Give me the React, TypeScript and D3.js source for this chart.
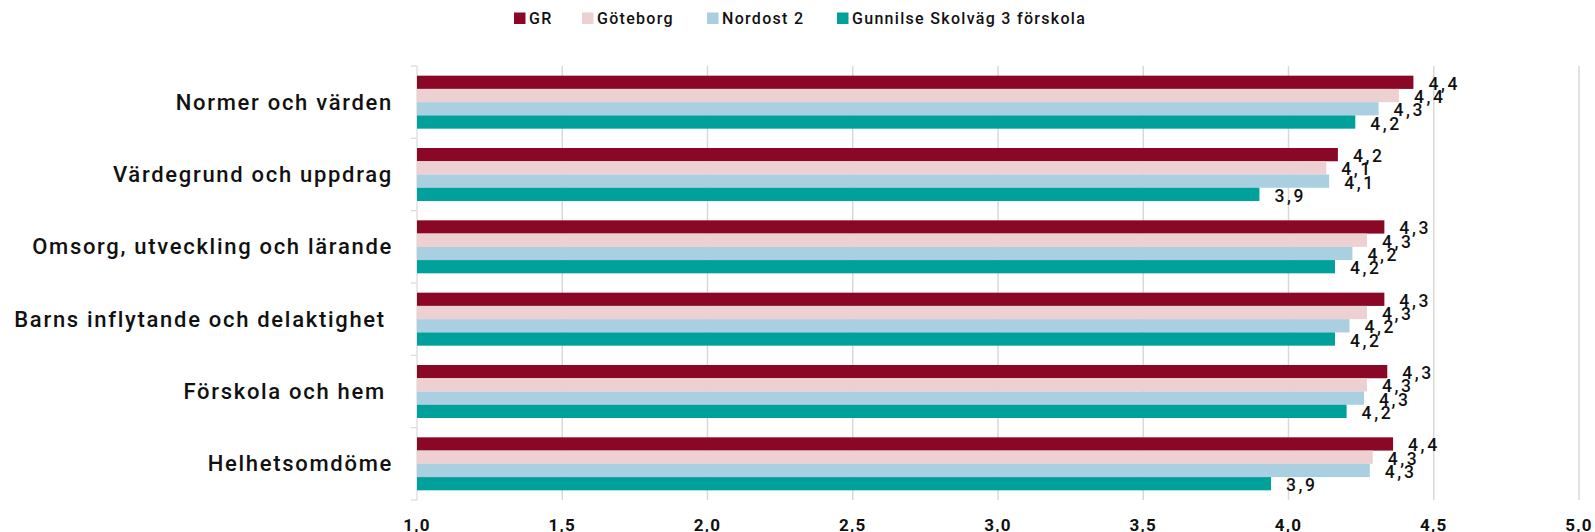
import React from 'react';
import * as d3 from 'd3';

const categories = [
  'Normer och värden',
  'Värdegrund och uppdrag',
  'Omsorg, utveckling och lärande',
  'Barns inflytande och delaktighet ',
  'Förskola och hem ',
  'Helhetsomdöme',
];

const seriesNames = ['GR', 'Göteborg', 'Nordost 2', 'Gunnilse Skolväg 3 förskola'];
const seriesColors = ['#8a0826', '#edd0d2', '#a9cfe1', '#00a19a'];

const grValues = [4.43, 4.17, 4.33, 4.33, 4.34, 4.36];
const goteborgValues = [4.38, 4.13, 4.27, 4.27, 4.27, 4.29];
const nordostValues = [4.31, 4.14, 4.22, 4.21, 4.26, 4.28];
const gunnilseValues = [4.23, 3.9, 4.16, 4.16, 4.2, 3.94];

const xTicks = [1, 1.5, 2, 2.5, 3, 3.5, 4, 4.5, 5];

const W = 1595;
const H = 532;
const FONT = 'Roboto, "Liberation Sans", sans-serif';

const seriesValues = [grValues, goteborgValues, nordostValues, gunnilseValues];

const sv = d3.formatLocale({ decimal: ',', thousands: ' ', grouping: [3], currency: ['', ' kr'] });
const fmt = sv.format('.1f');

export default function App() {
  const x = d3.scaleLinear().domain([1, 5]).range([417, 1579]);
  const y0 = d3.scaleBand<string>().domain(categories).range([66, 500]).paddingInner(0);
  const y1 = d3
    .scaleBand<string>()
    .domain(seriesNames)
    .range([0, y0.bandwidth()])
    .paddingInner(0)
    .paddingOuter(0.73);

  const boundaries = d3.range(categories.length + 1).map(i => 66 + i * y0.step());

  // legend layout
  const legendX = [514, 582, 707, 837];

  return (
    <svg
      width={W}
      height={H}
      style={{ position: 'absolute', left: 0, top: 0, display: 'block', background: '#fff' }}
      fontFamily={FONT}
    >
      {/* legend */}
      <g>
        {seriesNames.map((s, i) => (
          <g key={s} transform={`translate(${legendX[i]},0)`}>
            <rect x={0} y={12.5} width={11.5} height={11.5} fill={seriesColors[i]} />
            <text
              x={15}
              y={18.5}
              dominantBaseline="central"
              fontSize={16}
              fontWeight={500}
              letterSpacing={1.3}
              fill="#111"
            >
              {s}
            </text>
          </g>
        ))}
      </g>

      {/* grid lines */}
      <g>
        {xTicks.slice(1).map(t => (
          <line key={t} x1={x(t)} x2={x(t)} y1={66} y2={500} stroke="#d9d9d9" strokeWidth={1.5} />
        ))}
      </g>

      {/* left axis */}
      <g stroke="#d9d9d9" strokeWidth={1.2}>
        <line x1={x(1)} x2={x(1)} y1={66} y2={500} />
        {boundaries.map((b, i) => (
          <line key={i} x1={x(1) - 6} x2={x(1)} y1={b} y2={b} />
        ))}
      </g>

      {/* bars */}
      {categories.map((c, ci) => (
        <g key={c} transform={`translate(0,${y0(c)})`}>
          {seriesNames.map((s, si) => (
            <rect
              key={s}
              x={x(1)}
              y={y1(s)}
              width={x(seriesValues[si][ci]) - x(1)}
              height={y1.bandwidth()}
              fill={seriesColors[si]}
            />
          ))}
        </g>
      ))}

      {/* value labels */}
      {categories.map((c, ci) => (
        <g key={c} transform={`translate(0,${y0(c)})`}>
          {seriesNames.map((s, si) => (
            <text
              key={s}
              x={x(seriesValues[si][ci]) + 15}
              y={(y1(s) ?? 0) + y1.bandwidth() / 2 + 1.5}
              dominantBaseline="central"
              fontSize={17.5}
              fontWeight={500}
              letterSpacing={2.6}
              fill="#111"
            >
              {fmt(seriesValues[si][ci])}
            </text>
          ))}
        </g>
      ))}

      {/* category labels */}
      {categories.map(c => (
        <text
          key={c}
          x={393}
          y={(y0(c) ?? 0) + y0.bandwidth() / 2}
          textAnchor="end"
          dominantBaseline="central"
          fontSize={22}
          fontWeight={500}
          letterSpacing={1.7}
          fill="#111"
          style={{ whiteSpace: 'pre' }}
        >
          {c}
        </text>
      ))}

      {/* x axis labels */}
      {xTicks.map(t => (
        <text
          key={t}
          x={x(t)}
          y={531}
          textAnchor="middle"
          fontSize={17}
          fontWeight={700}
          letterSpacing={1.2}
          fill="#111"
        >
          {fmt(t)}
        </text>
      ))}
    </svg>
  );
}
